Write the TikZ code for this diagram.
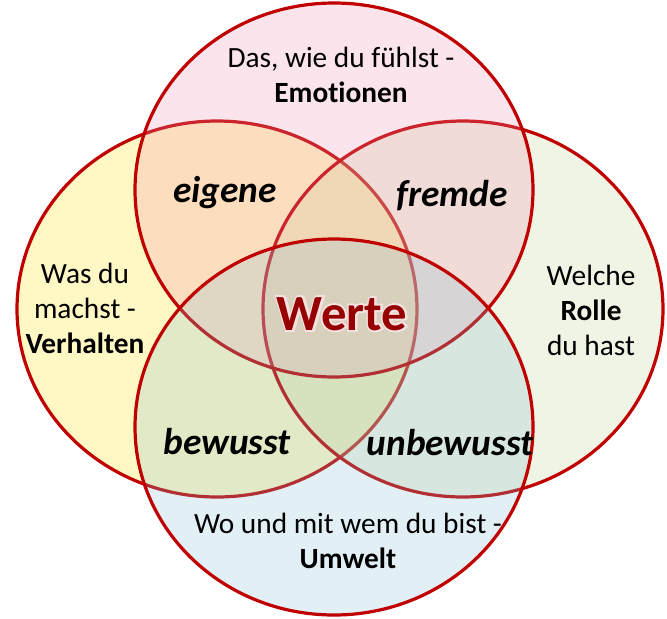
\documentclass[tikz,border=0pt]{standalone}
\usepackage{fontspec}
\setmainfont{Carlito}[Ligatures=NoCommon]
\usetikzlibrary{positioning}

\definecolor{venn_line}{HTML}{C00000}
\definecolor{venn_top}{HTML}{F393B3}
\definecolor{venn_left}{HTML}{FFE313}
\definecolor{venn_right}{HTML}{C3D393}
\definecolor{venn_bottom}{HTML}{8BBFD3}
\definecolor{werte_red}{HTML}{960000}

% outlined text (stroke only) for the pale rim round "Werte"
\newcommand{\rimtext}[1]{\special{pdf:literal direct 1 Tr 3 w 0.97 0.88 0.88 RG}#1\special{pdf:literal direct 0 Tr}}

\begin{document}
\begin{tikzpicture}[
        x=0.75pt, y=-0.75pt,
        venn_set/.style={
            draw=venn_line, line width=2.4pt, fill opacity=0.25
        },
        plain_text/.style={
            font=\fontsize{22}{26}\selectfont, inner sep=0pt, anchor=base
        },
        region_text/.style={
            font=\bfseries\itshape\fontsize{28}{34}\selectfont, inner sep=0pt, anchor=base
        },
        werte_text/.style={
            font=\bfseries\fontsize{38}{44}\selectfont, inner sep=0pt, anchor=base
        }
    ]
    \useasboundingbox (0,0) rectangle (667,618);

    % The four sets (left and right first, bottom on top)
    \draw[venn_set, fill=venn_left] (217,309) ellipse [x radius=200, y radius=188];
    \draw[venn_set, fill=venn_right] (463,309) ellipse [x radius=200, y radius=188];
    \draw[venn_set, fill=venn_top] (334,190) ellipse [x radius=199, y radius=187];
    \draw[venn_set, fill=venn_bottom] (334,427) ellipse [x radius=199, y radius=188];

    % Outer labels
    \node[plain_text] (das) at (341,67) {Das, wie du fühlst -};
    \node[plain_text, below=26.25pt of das.base, anchor=base] (emotionen) {\textbf{Emotionen}};

    \node[plain_text] (was) at (85,283) {Was du};
    \node[plain_text, below=26.25pt of was.base, anchor=base] (machst) {machst -};
    \node[plain_text, below=26.25pt of machst.base, anchor=base] (verhalten) {\textbf{Verhalten}};

    \node[plain_text] (welche) at (591,285) {Welche};
    \node[plain_text, below=26.25pt of welche.base, anchor=base] (rolle) {\textbf{Rolle}};
    \node[plain_text, below=26.25pt of rolle.base, anchor=base] (duhast) {du hast};

    \node[plain_text] (wo) at (348,533) {Wo und mit wem du bist -};
    \node[plain_text, below=26.25pt of wo.base, anchor=base] (umwelt) {\textbf{Umwelt}};

    % Overlap labels
    \node[region_text] (eigene) at (225,202) {eigene};
    \node[region_text] (fremde) at (452,206) {fremde};
    \node[region_text] (bewusst) at (227,454) {bewusst};
    \node[region_text] (unbewusst) at (450,455) {unbewusst};

    % Centre
    \node[werte_text] (werte_rim) at (342,330) {\rimtext{Werte}};
    \node[werte_text, text=werte_red] (werte) at (werte_rim.base) {Werte};

\end{tikzpicture}
\end{document}
